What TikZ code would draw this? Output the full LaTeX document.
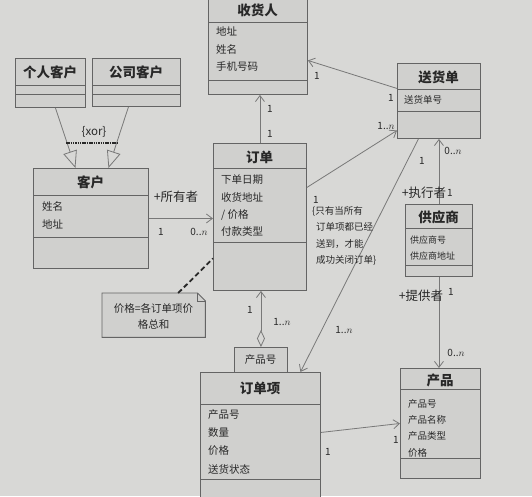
\documentclass[tikz,border=0pt]{standalone}
\usepackage{fontspec}
\setmainfont{Noto Sans CJK SC}
\usetikzlibrary{arrows.meta}
\definecolor{bg}{RGB}{216,216,214}
\definecolor{boxc}{RGB}{208,208,206}
\definecolor{linec}{RGB}{100,100,100}
\definecolor{arrc}{RGB}{120,120,120}
\definecolor{txt}{RGB}{40,40,40}
\tikzset{
  cls/.style={draw=linec, fill=boxc, line width=0.9pt, anchor=north west, inner sep=0pt},
  div/.style={draw=linec, line width=0.9pt},
  ttl/.style={font=\bfseries\fontsize{13.5}{14}\selectfont, text=txt, inner sep=0pt},
  attr/.style={font=\fontsize{10.5}{11}\selectfont, anchor=west, text=txt, inner sep=0pt},
  sattr/.style={font=\fontsize{9.5}{10}\selectfont, anchor=west, text=txt, inner sep=0pt},
  lbl/.style={font=\fontsize{10}{11}\selectfont, text=txt, inner sep=0pt},
  role/.style={font=\fontsize{12.5}{13}\selectfont, text=txt, inner sep=0pt},
  assoc/.style={draw=arrc, line width=0.8pt, -{Straight Barb[length=6pt,width=9pt]}},
  gen/.style={draw=arrc, line width=0.8pt, -{Triangle[open,length=17pt,width=14pt]}},
  agg/.style={draw=arrc, line width=0.8pt, {Diamond[open,length=17pt,width=8pt]}-{Straight Barb[length=6pt,width=9pt]}},
}
\begin{document}
\begin{tikzpicture}[x=1pt,y=-1pt]
\useasboundingbox (0,0) rectangle (532,496);
\fill[bg] (0,0) rectangle (532,496);

% 收货人
\node[cls, minimum width=99pt, minimum height=97pt] (recv) at (208,-3) {};
\draw[div] (208,22) -- (307,22); \draw[div] (208,80) -- (307,80);
\node[ttl] at (257.5,10) {收货人};
\node[attr] at (216,31) {地址};
\node[attr] at (216,49) {姓名};
\node[attr] at (216,67) {手机号码};

% 个人客户
\node[cls, minimum width=70pt, minimum height=49pt] (pers) at (15,58) {};
\draw[div] (15,85) -- (85,85); \draw[div] (15,94) -- (85,94);
\node[ttl] at (50,72) {个人客户};

% 公司客户
\node[cls, minimum width=88pt, minimum height=48pt] (corp) at (92,58) {};
\draw[div] (92,85) -- (180,85); \draw[div] (92,94) -- (180,94);
\node[ttl] at (136,72) {公司客户};

% 客户
\node[cls, minimum width=115pt, minimum height=100pt] (cust) at (33,168) {};
\draw[div] (33,195) -- (148,195); \draw[div] (33,237) -- (148,237);
\node[ttl] at (90.5,182) {客户};
\node[attr] at (42,206) {姓名};
\node[attr] at (42,224) {地址};

% 订单
\node[cls, minimum width=93pt, minimum height=147pt] (order) at (213,143) {};
\draw[div] (213,168) -- (306,168); \draw[div] (213,242) -- (306,242);
\node[ttl] at (259.5,157) {订单};
\node[attr] at (221,180) {下单日期};
\node[attr] at (221,197) {收货地址};
\node[attr] at (221,215) {/ 价格};
\node[attr] at (221,232) {付款类型};

% 送货单
\node[cls, minimum width=83pt, minimum height=75pt] (ship) at (397,63) {};
\draw[div] (397,89) -- (480,89); \draw[div] (397,111) -- (480,111);
\node[ttl] at (438.5,77) {送货单};
\node[sattr] at (404,100) {送货单号};

% 供应商
\node[cls, minimum width=67pt, minimum height=72pt] (supp) at (405,204) {};
\draw[div] (405,228) -- (472,228); \draw[div] (405,265) -- (472,265);
\node[ttl] at (438.5,217) {供应商};
\node[sattr, font=\fontsize{9}{10}\selectfont] at (410,240) {供应商号};
\node[sattr, font=\fontsize{9}{10}\selectfont] at (410,256) {供应商地址};

% 产品
\node[cls, minimum width=80pt, minimum height=110pt] (prod) at (400,368) {};
\draw[div] (400,389) -- (480,389); \draw[div] (400,458) -- (480,458);
\node[ttl] at (440,380) {产品};
\node[sattr] at (408,404) {产品号};
\node[sattr] at (408,420) {产品名称};
\node[sattr] at (408,436) {产品类型};
\node[sattr] at (408,453) {价格};

% 订单项
\node[cls, minimum width=120pt, minimum height=133pt] (item) at (200,372) {};
\draw[div] (200,404) -- (320,404); \draw[div] (200,479) -- (320,479);
\node[ttl] at (260,388) {订单项};
\node[attr] at (208,415) {产品号};
\node[attr] at (208,433) {数量};
\node[attr] at (208,451) {价格};
\node[attr] at (208,469) {送货状态};

% qualifier 产品号
\node[cls, minimum width=53pt, minimum height=25pt] (qual) at (234,347) {};
\node[attr, anchor=center] at (260.5,360) {产品号};

% note
\node[anchor=north west, minimum width=103pt, minimum height=44pt, inner sep=0pt] (note) at (102,293) {};
\draw[linec, fill=boxc, line width=0.9pt] (note.north west) -- ([xshift=-8pt]note.north east) -- ([yshift=-8pt]note.north east) -- (note.south east) -- (note.south west) -- cycle;
\draw[linec, line width=0.7pt] ([xshift=-8pt]note.north east) -- ([xshift=-8pt,yshift=-8pt]note.north east) -- ([yshift=-8pt]note.north east);
\node[font=\fontsize{10.5}{16}\selectfont, text=txt, align=center, inner sep=0pt] at (153.5,316) {价格=各订单项价\\格总和};
\draw[txt, line width=1.8pt, dash pattern=on 5pt off 3pt] ([xshift=24.5pt]note.north) -- ([yshift=-41.5pt]order.west);

% generalization
\draw[gen] ([xshift=5pt]pers.south) -- ([xshift=-15.5pt]cust.north);
\draw[gen] ([xshift=-8pt]corp.south) -- ([xshift=17.5pt]cust.north);
\draw[txt, line width=2pt, dash pattern=on 1.5pt off 0.8pt] (66,143) -- (117,143);
\node[lbl, font=\fontsize{11.5}{12}\selectfont] at (94,132) {\{xor\}};

% associations
\draw[assoc] (cust.east) -- (cust.east -| order.west);
\node[role] at (176,197) {+所有者};
\node[lbl] at (161,232) {1};
\node[lbl] at (199,232) {0..$n$};

\draw[assoc] (order.north) -- (order.north |- recv.south);
\node[lbl] at (270,109) {1};
\node[lbl] at (270,134) {1};

\draw[assoc] ([yshift=12.5pt]ship.west) -- ([yshift=-14.5pt]recv.east);
\node[lbl] at (317,76) {1};
\node[lbl] at (391,98) {1};

\draw[assoc] ([yshift=29.5pt]order.east) -- ([yshift=-29.5pt]ship.west);
\node[lbl] at (386,126) {1..$n$};
\node[lbl] at (316,200) {1};

\draw[assoc] ([xshift=-20.5pt]ship.south) -- ([xshift=40pt]item.north);
\node[lbl] at (422,161) {1};
\node[lbl] at (344,330) {1..$n$};

\draw[assoc] (supp.north) -- (supp.north |- ship.south);
\node[lbl] at (453,151) {0..$n$};
\node[role] at (424,193) {+执行者};
\node[lbl] at (450,193) {1};

\draw[assoc] (supp.south) -- (supp.south |- prod.north);
\node[role] at (421,296) {+提供者};
\node[lbl] at (451,292) {1};
\node[lbl] at (456,353) {0..$n$};

\draw[assoc] ([yshift=6.5pt]item.east) -- (prod.west);
\node[lbl] at (328,452) {1};
\node[lbl] at (396,440) {1};

\draw[agg] (qual.north) -- (qual.north |- order.south);
\node[lbl] at (250,310) {1};
\node[lbl] at (282,322) {1..$n$};

% constraint
\node[font=\fontsize{9.5}{16.5}\selectfont, text=txt, align=left, anchor=north west, inner sep=0pt] at (312,206) {\{只有当所有\\\hspace{4pt}订单项都已经\\\hspace{4pt}送到，才能\\\hspace{4pt}成功关闭订单\}};
\end{tikzpicture}
\end{document}
